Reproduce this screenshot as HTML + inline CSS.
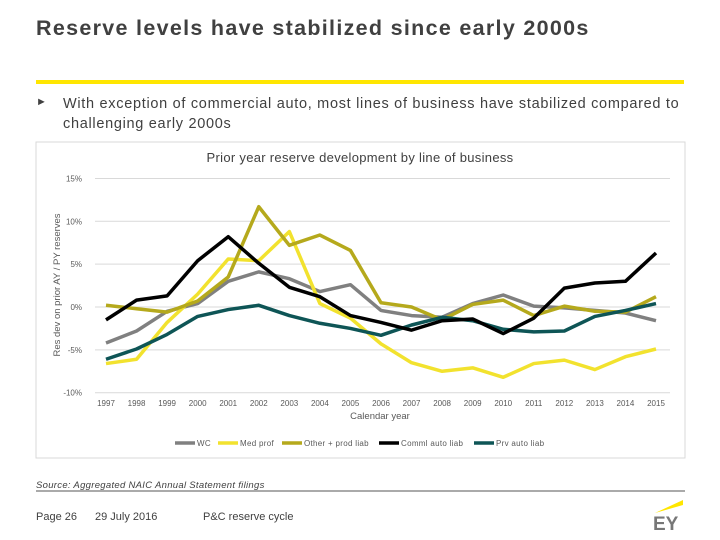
<!DOCTYPE html>
<html><head><meta charset="utf-8"><style>
body{margin:0;width:720px;height:540px;background:#fff;font-family:"Liberation Sans",sans-serif;position:relative;overflow:hidden}
.a{position:absolute;white-space:nowrap}
</style></head><body>
<div class="a" style="left:36px;top:16px;font-size:21.5px;font-weight:bold;color:#404040;letter-spacing:1.3px">Reserve levels have stabilized since early 2000s</div>
<div class="a" style="left:36px;top:80px;width:648px;height:4px;background:#ffe600"></div>
<div class="a" style="left:36px;top:96px;font-size:11px;color:#404040">►</div>
<div class="a" style="left:63px;top:94px;font-size:14.5px;line-height:20px;color:#404040;white-space:normal;width:650px;letter-spacing:0.7px">With exception of commercial auto, most lines of business have stabilized compared to challenging early 2000s</div>
<svg class="a" style="left:0;top:0" width="720" height="540">
<rect x="36" y="142" width="649" height="316" fill="none" stroke="#d9d9d9"/>
<text x="360" y="162" text-anchor="middle" font-size="13" letter-spacing="0.3" fill="#404040">Prior year reserve development by line of business</text>
<text transform="translate(60,285) rotate(-90)" text-anchor="middle" font-size="9.5" fill="#595959">Res dev on prior AY / PY reserves</text>
<text x="380" y="419" text-anchor="middle" font-size="9.5" fill="#595959">Calendar year</text>
<g id="grid"></g><g id="lines"></g><g id="legend"></g>
<line x1="36" y1="491" x2="685" y2="491" stroke="#555"/>
<polygon points="655,513 683,500 683,505" fill="#ffe600"/>
<text x="653" y="530" font-size="19" font-weight="bold" fill="#777">EY</text>
</svg>
<div class="a" style="left:36px;top:480px;font-size:9.5px;font-style:italic;color:#404040;letter-spacing:0.3px">Source: Aggregated NAIC Annual Statement filings</div>
<div class="a" style="left:36px;top:511px;font-size:11px;color:#404040">Page 26</div>
<div class="a" style="left:95px;top:511px;font-size:11px;color:#404040">29 July 2016</div>
<div class="a" style="left:203px;top:511px;font-size:11px;color:#404040">P&amp;C reserve cycle</div>
<script>
const years=[1997,1998,1999,2000,2001,2002,2003,2004,2005,2006,2007,2008,2009,2010,2011,2012,2013,2014,2015];
const yTicks=[15,10,5,0,-5,-10];
const seriesNames=["WC","Med prof","Other + prod liab","Comml auto liab","Prv auto liab"];
const wc=[-4.2,-2.8,-0.5,0.4,3.0,4.1,3.3,1.8,2.6,-0.4,-1.0,-1.2,0.4,1.4,0.1,-0.1,-0.4,-0.7,-1.6];
const medProf=[-6.6,-6.1,-1.8,1.5,5.6,5.4,8.8,0.4,-1.3,-4.3,-6.5,-7.5,-7.1,-8.2,-6.6,-6.2,-7.3,-5.8,-4.9];
const otherProd=[0.2,-0.2,-0.6,0.7,3.5,11.7,7.2,8.4,6.6,0.5,0.0,-1.5,0.3,0.8,-1.0,0.1,-0.5,-0.6,1.2];
const commlAuto=[-1.5,0.8,1.3,5.4,8.2,5.1,2.3,1.2,-1.0,-1.8,-2.7,-1.6,-1.4,-3.1,-1.3,2.2,2.8,3.0,6.3];
const prvAuto=[-6.1,-4.9,-3.2,-1.1,-0.3,0.2,-1.0,-1.9,-2.5,-3.3,-2.1,-1.2,-1.6,-2.6,-2.9,-2.8,-1.1,-0.4,0.4];
const NS="http://www.w3.org/2000/svg";
const X=i=>106+i*(656-106)/(years.length-1);
const Y=v=>307-v*8.57;
function mk(t,a,p){const e=document.createElementNS(NS,t);for(const k in a)e.setAttribute(k,a[k]);p.appendChild(e);return e;}
const grid=document.getElementById('grid');
yTicks.forEach(t=>{
 const l=mk('line',{x1:95,x2:670,y1:Y(t),y2:Y(t),stroke:'#d9d9d9'},grid);
 
 
 const tx=mk('text',{x:82,y:Y(t)+3,'text-anchor':'end','font-size':8,fill:'#595959'},grid);
 tx.textContent=t+'%';
 
 
});
years.forEach((yr,i)=>{
 const tx=mk('text',{x:X(i),y:406,'text-anchor':'middle','font-size':8,fill:'#595959'},grid);
 tx.textContent=yr;
 
 
});
const data=[wc,medProf,otherProd,commlAuto,prvAuto];
const colors=['#808080','#f2e22e','#b5a91c','#000000','#0e5556'];
const order=[0,1,2,4,3];
const lines=document.getElementById('lines');
order.forEach(s=>{
 const p=mk('polyline',{points:data[s].map((v,i)=>X(i)+','+Y(v)).join(' '),fill:'none',stroke:colors[s],'stroke-width':3.5,'stroke-linejoin':'round'},lines);
 
 
});
const lg=document.getElementById('legend');
const lx=[175,218,282,379,474];
seriesNames.forEach((n,s)=>{
 const l=mk('line',{x1:lx[s],x2:lx[s]+20,y1:443,y2:443,stroke:colors[s],'stroke-width':3.5},lg);
 
 
 const t=mk('text',{x:lx[s]+22,y:446,'font-size':8,fill:'#595959','letter-spacing':0.3},lg);
 t.textContent=n;
 
 
});
</script>
</body></html>
